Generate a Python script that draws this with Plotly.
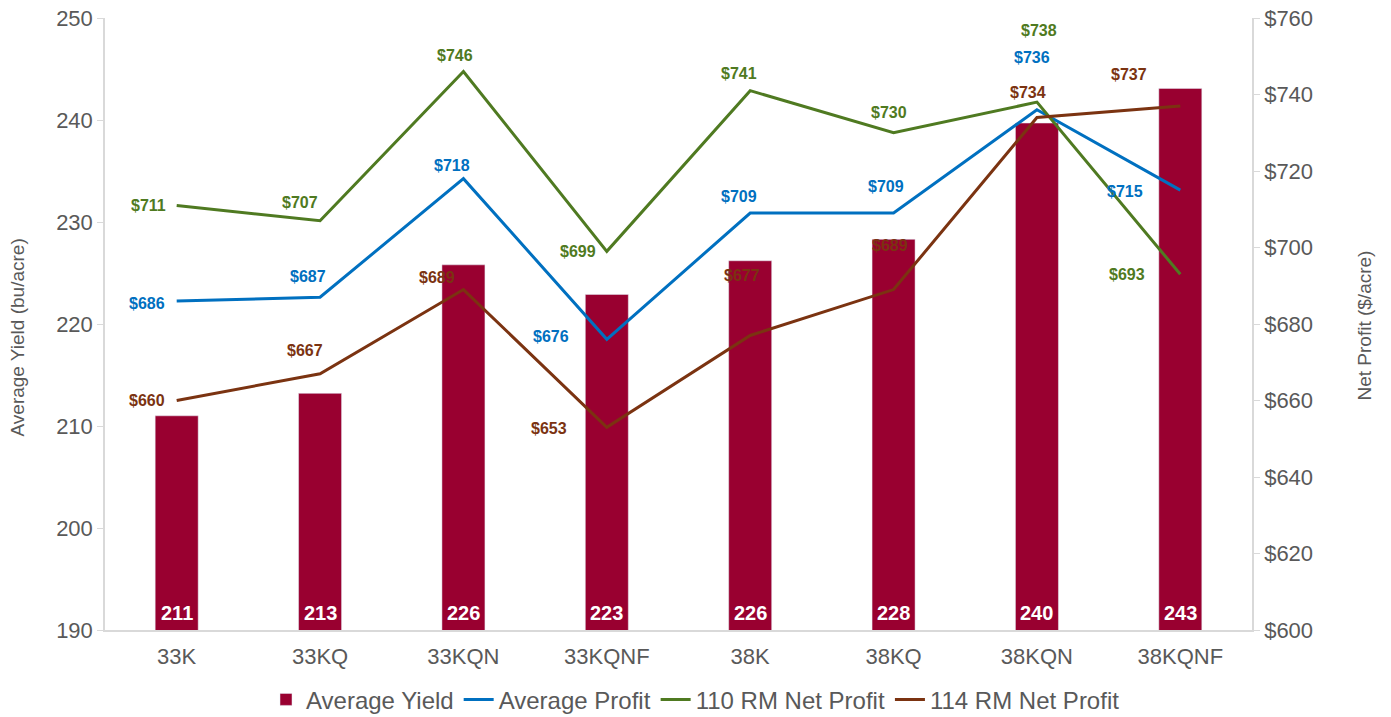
import plotly.graph_objects as go

categories = ["33K", "33KQ", "33KQN", "33KQNF", "38K", "38KQ", "38KQN", "38KQNF"]
avg_yield = [211.0, 213.2, 225.8, 222.9, 226.2, 228.3, 239.7, 243.1]
avg_profit = [686, 687, 718, 676, 709, 709, 736, 715]
rm110_profit = [711, 707, 746, 699, 741, 730, 738, 693]
rm114_profit = [660, 667, 689, 653, 677, 689, 734, 737]

left_ticks = [190, 200, 210, 220, 230, 240, 250]
right_ticks = [600, 620, 640, 660, 680, 700, 720, 740, 760]

BAR = "#990030"
BLUE = "#0070C0"
GREEN = "#4F7A21"
BROWN = "#7B3311"
GRAY = "#595959"
FONT = "Liberation Sans, Arial, sans-serif"

# label offsets (pixels) relative to each point: styling only
off_blue = [(-30, 2), (-12, -21), (-11, -13), (-56, -3), (-11, -17), (-8, -27), (-5, -52), (-55, 1)]
off_green = [(-28, 0), (-20, -18), (-8, -16), (-29, 0), (-11, -17), (-5, -20), (2, -72), (-53, 0)]
off_brown = [(-30, 0), (-15, -23), (-26, -12), (-58, 1), (-8, -60), (-4, -44), (-9, -25), (-51, -31)]

fig = go.Figure()
fig.add_trace(go.Bar(
    x=categories, y=avg_yield, name="Average Yield", marker_color=BAR,
    width=0.30, yaxis="y",
))
for name, vals, col in [("Average Profit", avg_profit, BLUE),
                        ("110 RM Net Profit", rm110_profit, GREEN),
                        ("114 RM Net Profit", rm114_profit, BROWN)]:
    fig.add_trace(go.Scatter(
        x=categories, y=vals, name=name, mode="lines",
        line=dict(color=col, width=3), yaxis="y2",
    ))

annotations = []
# bar value labels at the bar base
for c, v in zip(categories, avg_yield):
    annotations.append(dict(
        x=c, y=left_ticks[0], xref="x", yref="y", text=f"{v:.0f}", showarrow=False,
        yanchor="bottom", yshift=4,
        font=dict(color="white", size=20, family=FONT, weight="bold"),
    ))
for vals, col, offs in [(avg_profit, BLUE, off_blue), (rm110_profit, GREEN, off_green),
                        (rm114_profit, BROWN, off_brown)]:
    for c, v, (dx, dy) in zip(categories, vals, offs):
        annotations.append(dict(
            x=c, y=v, xref="x", yref="y2", text=f"${v}", showarrow=False,
            xshift=dx, yshift=-dy, font=dict(color=col, size=16, family=FONT, weight="bold"),
        ))
# axis titles
annotations.append(dict(x=0, y=0.5, xref="paper", yref="paper", xshift=-100, yshift=-14,
                        text="Average Yield (bu/acre)", textangle=-90, showarrow=False,
                        borderpad=0, font=dict(size=19, color=GRAY, family=FONT)))
annotations.append(dict(x=1, y=0.5, xref="paper", yref="paper", xshift=123, yshift=-2,
                        text="Net Profit ($/acre)", textangle=-90, showarrow=False,
                        borderpad=0, font=dict(size=19, color=GRAY, family=FONT)))

fig.update_layout(
    width=1391, height=717,
    margin=dict(l=105, r=139, t=18, b=87),
    paper_bgcolor="white", plot_bgcolor="white",
    font=dict(family=FONT, color=GRAY),
    showlegend=True,
    legend=dict(orientation="h", x=0.5, xanchor="center", xref="container",
                y=0.024, yanchor="middle", yref="container",
                font=dict(size=24, color=GRAY), traceorder="normal"),
    xaxis=dict(range=[-0.5, 7.5], showline=True, linecolor="#D9D9D9", linewidth=1.5,
               ticks="", tickfont=dict(size=22, color=GRAY), showgrid=False,
               automargin=False, ticklabelstandoff=6),
    yaxis=dict(range=[190, 250], tickvals=left_ticks, showline=True, linecolor="#D9D9D9",
               linewidth=1.5, ticks="outside", ticklen=6, tickcolor="#D9D9D9",
               tickfont=dict(size=22, color=GRAY), showgrid=False, zeroline=False,
               automargin=False, ticklabeloverflow="allow"),
    yaxis2=dict(range=[600, 760], tickvals=right_ticks, ticktext=[f"${t}" for t in right_ticks],
                overlaying="y", side="right", showline=True, linecolor="#D9D9D9", linewidth=1.5,
                ticks="outside", ticklen=6, tickcolor="#D9D9D9",
                tickfont=dict(size=22, color=GRAY), showgrid=False, zeroline=False,
                automargin=False, ticklabeloverflow="allow"),
    annotations=annotations,
)

fig.write_html("out.html", config={"displayModeBar": False},
               post_script="document.body.style.margin='0';")
